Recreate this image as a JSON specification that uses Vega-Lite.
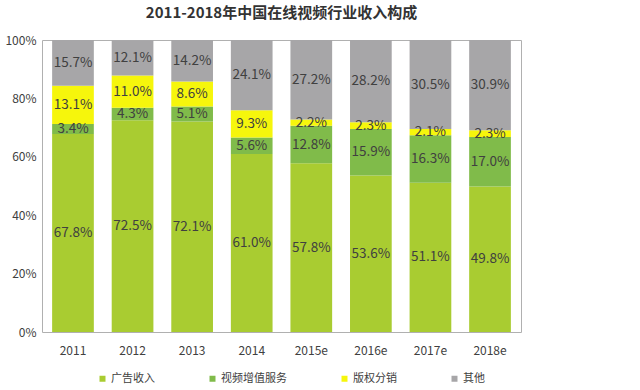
{
  "$schema": "https://vega.github.io/schema/vega-lite/v6.json",
  "autosize": "none",
  "width": 479,
  "height": 292,
  "padding": {"left": 42, "top": 40, "right": 119, "bottom": 58},
  "title": {
    "text": "2011-2018年中国在线视频行业收入构成",
    "fontSize": 15,
    "fontWeight": "bold",
    "font": "Noto Sans CJK SC",
    "color": "#333333",
    "anchor": "middle",
    "offset": 13
  },
  "config": {
    "font": "Noto Sans CJK SC",
    "view": {"stroke": "#b0b0b0", "strokeWidth": 1}
  },
  "data": {
    "values": [
      {"year": "2011", "type": "广告收入", "order": 1, "v": 0.678},
      {"year": "2011", "type": "视频增值服务", "order": 2, "v": 0.034},
      {"year": "2011", "type": "版权分销", "order": 3, "v": 0.131},
      {"year": "2011", "type": "其他", "order": 4, "v": 0.157},
      {"year": "2012", "type": "广告收入", "order": 1, "v": 0.725},
      {"year": "2012", "type": "视频增值服务", "order": 2, "v": 0.043},
      {"year": "2012", "type": "版权分销", "order": 3, "v": 0.110},
      {"year": "2012", "type": "其他", "order": 4, "v": 0.121},
      {"year": "2013", "type": "广告收入", "order": 1, "v": 0.721},
      {"year": "2013", "type": "视频增值服务", "order": 2, "v": 0.051},
      {"year": "2013", "type": "版权分销", "order": 3, "v": 0.086},
      {"year": "2013", "type": "其他", "order": 4, "v": 0.142},
      {"year": "2014", "type": "广告收入", "order": 1, "v": 0.610},
      {"year": "2014", "type": "视频增值服务", "order": 2, "v": 0.056},
      {"year": "2014", "type": "版权分销", "order": 3, "v": 0.093},
      {"year": "2014", "type": "其他", "order": 4, "v": 0.241},
      {"year": "2015e", "type": "广告收入", "order": 1, "v": 0.578},
      {"year": "2015e", "type": "视频增值服务", "order": 2, "v": 0.128},
      {"year": "2015e", "type": "版权分销", "order": 3, "v": 0.022},
      {"year": "2015e", "type": "其他", "order": 4, "v": 0.272},
      {"year": "2016e", "type": "广告收入", "order": 1, "v": 0.536},
      {"year": "2016e", "type": "视频增值服务", "order": 2, "v": 0.159},
      {"year": "2016e", "type": "版权分销", "order": 3, "v": 0.023},
      {"year": "2016e", "type": "其他", "order": 4, "v": 0.282},
      {"year": "2017e", "type": "广告收入", "order": 1, "v": 0.511},
      {"year": "2017e", "type": "视频增值服务", "order": 2, "v": 0.163},
      {"year": "2017e", "type": "版权分销", "order": 3, "v": 0.021},
      {"year": "2017e", "type": "其他", "order": 4, "v": 0.305},
      {"year": "2018e", "type": "广告收入", "order": 1, "v": 0.498},
      {"year": "2018e", "type": "视频增值服务", "order": 2, "v": 0.170},
      {"year": "2018e", "type": "版权分销", "order": 3, "v": 0.023},
      {"year": "2018e", "type": "其他", "order": 4, "v": 0.309}
    ]
  },
  "transform": [
    {"stack": "v", "groupby": ["year"], "sort": [{"field": "order", "order": "ascending"}], "as": ["v0", "v1"]},
    {"calculate": "(datum.v0 + datum.v1) / 2", "as": "mid"}
  ],
  "encoding": {
    "x": {
      "field": "year",
      "type": "nominal",
      "sort": null,
      "scale": {"paddingInner": 0.3, "paddingOuter": 0.17},
      "axis": {
        "title": null,
        "labelAngle": 0,
        "ticks": false,
        "domain": false,
        "labelFontSize": 12,
        "labelColor": "#404040",
        "labelPadding": 13
      }
    }
  },
  "layer": [
    {
      "mark": {"type": "bar"},
      "encoding": {
        "y": {
          "field": "v0",
          "type": "quantitative",
          "scale": {"domain": [0, 1], "nice": false},
          "axis": {
            "title": null,
            "format": ".0%",
            "values": [0, 0.2, 0.4, 0.6, 0.8, 1],
            "grid": false,
            "ticks": false,
            "domain": false,
            "labelFontSize": 12,
            "labelColor": "#404040",
            "labelPadding": 6
          }
        },
        "y2": {"field": "v1"},
        "color": {
          "field": "type",
          "type": "nominal",
          "scale": {
            "domain": ["广告收入", "视频增值服务", "版权分销", "其他"],
            "range": ["#a9cc31", "#80bb4a", "#f6f60c", "#a7a6a8"]
          },
          "legend": {
            "title": null,
            "orient": "none",
            "legendX": 55,
            "legendY": 333,
            "direction": "horizontal",
            "symbolType": "square",
            "symbolSize": 36,
            "symbolStrokeWidth": 0,
            "labelFontSize": 11,
            "labelOffset": 3,
            "labelColor": "#404040",
            "columnPadding": 52
          }
        }
      }
    },
    {
      "mark": {"type": "text", "fontSize": 13.5, "color": "#404040"},
      "encoding": {
        "y": {"field": "mid", "type": "quantitative"},
        "text": {"field": "v", "type": "quantitative", "format": ".1%"}
      }
    }
  ]
}
